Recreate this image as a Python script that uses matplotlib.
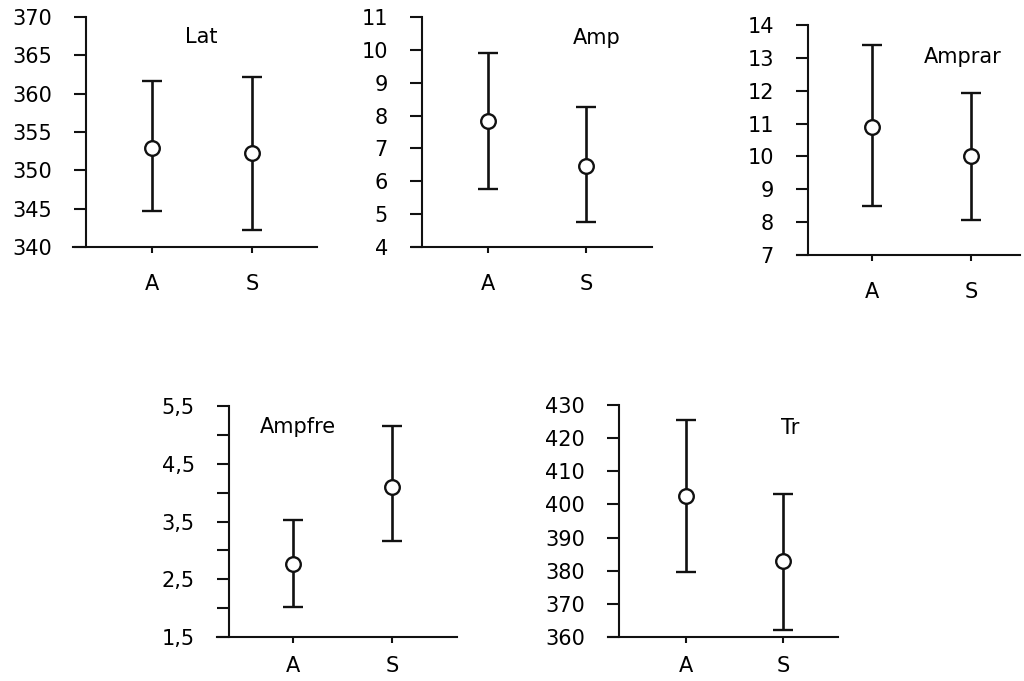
import matplotlib
matplotlib.use("Agg")
import matplotlib.pyplot as plt
from matplotlib.ticker import FixedLocator

plt.rcParams['font.family'] = ['DejaVu Sans']
plt.rcParams['font.size'] = 15

W, H = 1024, 681

groups = ["A", "S"]

lat_mean = [352.9, 352.2]
lat_low = [344.7, 342.2]
lat_high = [361.6, 362.2]

amp_mean = [7.83, 6.45]
amp_low = [5.75, 4.77]
amp_high = [9.9, 8.27]

amprar_mean = [10.9, 10.0]
amprar_low = [8.5, 8.07]
amprar_high = [13.4, 11.92]

ampfre_mean = [2.76, 4.10]
ampfre_low = [2.02, 3.16]
ampfre_high = [3.52, 5.15]

tr_mean = [402.5, 382.9]
tr_low = [379.6, 362.0]
tr_high = [425.5, 403.1]

titles = ["Lat", "Amp", "Amprar", "Ampfre", "Tr"]
y_ticks = [
    [340, 345, 350, 355, 360, 365, 370],
    [4, 5, 6, 7, 8, 9, 10, 11],
    [7, 8, 9, 10, 11, 12, 13, 14],
    [1.5, 2.0, 2.5, 3.0, 3.5, 4.0, 4.5, 5.0, 5.5],
    [360, 370, 380, 390, 400, 410, 420, 430],
]
y_labels = [
    ["340", "345", "350", "355", "360", "365", "370"],
    ["4", "5", "6", "7", "8", "9", "10", "11"],
    ["7", "8", "9", "10", "11", "12", "13", "14"],
    ["1,5", "", "2,5", "", "3,5", "", "4,5", "", "5,5"],
    ["360", "370", "380", "390", "400", "410", "420", "430"],
]

series = [
    (lat_mean, lat_low, lat_high),
    (amp_mean, amp_low, amp_high),
    (amprar_mean, amprar_low, amprar_high),
    (ampfre_mean, ampfre_low, ampfre_high),
    (tr_mean, tr_low, tr_high),
]

# pixel layout: left, right, top, bottom, y-axis x, A x, S x
boxes = [
    (73, 317, 17, 247, 86, 152, 252),
    (412, 652, 17, 247, 422, 488, 586),
    (797, 1020, 25, 255, 808, 872, 971),
    (217, 457, 406, 637, 229, 293, 392),
    (608, 838, 405, 637, 619, 686, 783),
]
xlabel_pad = [15, 15, 15, 9.5, 9.5]
title_pos = [(201, 37), (597, 38), (963, 57), (298, 427), (790, 428)]

ink = "#111111"
fig = plt.figure(figsize=(W / 100, H / 100), dpi=100)

for i in range(5):
    left, right, top, bottom, yax, pa, ps = boxes[i]
    ax = fig.add_axes([left / W, 1 - bottom / H, (right - left) / W, (bottom - top) / H])
    scale = ps - pa
    xmin = 1 - (pa - left) / scale
    xmax = 2 + (right - ps) / scale
    ax.set_xlim(xmin, xmax)
    ax.set_ylim(y_ticks[i][0], y_ticks[i][-1])

    mean, low, high = series[i]
    x = [1, 2]
    err = [[m - l for m, l in zip(mean, low)], [h - m for m, h in zip(mean, high)]]
    ax.errorbar(x, mean, yerr=err, fmt="o", color=ink, ecolor=ink, elinewidth=1.9,
                capsize=7, capthick=1.9, ms=10.5, mfc="white", mec=ink, mew=1.7,
                clip_on=False, zorder=3)

    for s in ["top", "right"]:
        ax.spines[s].set_visible(False)
    ax.spines["left"].set_position(("data", 1 - (pa - yax) / scale))
    ax.spines["left"].set_linewidth(1.5)
    ax.spines["bottom"].set_linewidth(1.5)
    ax.spines["left"].set_color(ink)
    ax.spines["bottom"].set_color(ink)

    ax.yaxis.set_major_locator(FixedLocator(y_ticks[i]))
    ax.set_yticklabels(y_labels[i])
    ax.set_xticks(x)
    ax.set_xticklabels(groups)
    ax.tick_params(axis="y", direction="out", length=9, width=1.5, pad=15.5,
                   labelsize=15, color=ink)
    ax.tick_params(axis="x", direction="out", length=4.5, width=1.5,
                   pad=xlabel_pad[i], labelsize=15, color=ink)
    ax.patch.set_visible(False)

    tx, ty = title_pos[i]
    fig.text(tx / W, 1 - ty / H, titles[i], ha="center", va="center", fontsize=15)

fig.savefig("out.png", dpi=100)
